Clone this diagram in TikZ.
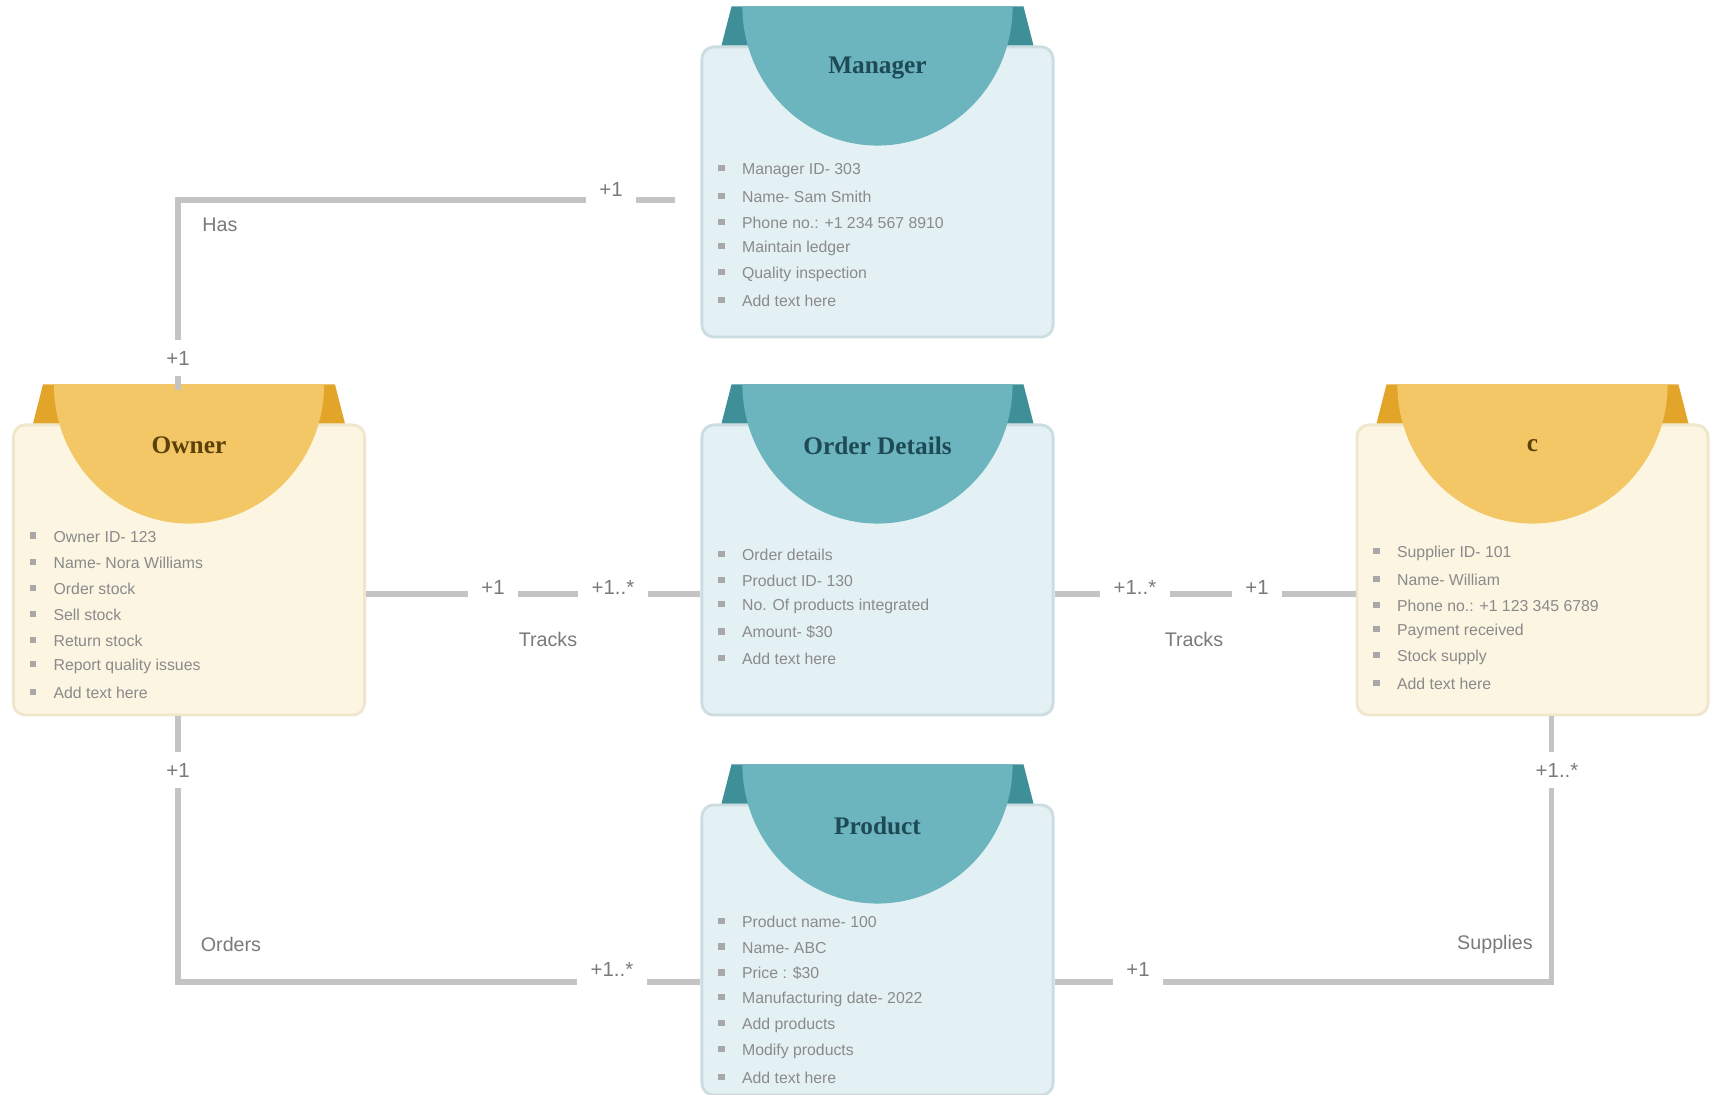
\documentclass[tikz,border=0pt]{standalone}
\usepackage{amsmath}
\usepackage{amssymb}
\usepackage{fontspec}
\usepackage{tikz}
\setmainfont{Liberation Sans}
\newfontfamily\titlefont{Liberation Serif}

\definecolor{tealtab}{HTML}{6CB4BE}
\definecolor{tealdark}{HTML}{3F8F99}
\definecolor{tealbody}{HTML}{E4F1F4}
\definecolor{tealedge}{HTML}{CCDDE1}
\definecolor{tealtitle}{HTML}{1D4A55}
\definecolor{goldtab}{HTML}{F3C766}
\definecolor{golddark}{HTML}{E2A52A}
\definecolor{goldbody}{HTML}{FCF5E2}
\definecolor{goldedge}{HTML}{EFE6CC}
\definecolor{goldtitle}{HTML}{5B4008}
\definecolor{linkgray}{HTML}{C4C4C4}
\definecolor{labgray}{HTML}{7A7A7A}
\definecolor{itemgray}{HTML}{8A8A8A}
\definecolor{bulgray}{HTML}{A8A8A8}

\tikzset{
    card/.style={rectangle, rounded corners=0.12cm, minimum width=3.51cm,
        minimum height=2.9cm, line width=0.8pt},
    cardtitle/.style={anchor=center, inner sep=0pt,
        font=\titlefont\bfseries\fontsize{7.2}{8}\selectfont},
    carditem/.style={anchor=west, inner sep=0pt,
        font=\fontsize{4.5}{6}\selectfont, text=itemgray},
    link/.style={draw=linkgray, line width=1.6pt},
    mult/.style={fill=white, inner xsep=3.8pt, inner ysep=3pt,
        font=\fontsize{5.8}{7}\selectfont, text=labgray},
    role/.style={inner sep=0pt, font=\fontsize{5.6}{7}\selectfont, text=labgray}
}

\newcommand\itm{\textcolor{bulgray}{\rule[0.4ex]{1.8pt}{1.8pt}}\hspace{5pt}}

\newcommand\umlcard[6]{%
    \node[card, fill=#3body, draw=#3edge] (#1) at #2 {};
    \fill[#3dark] ([xshift=0.31cm,yshift=0.39cm]#1.north west)
        -- ([xshift=0.21cm]#1.north west) -- ([xshift=-0.21cm]#1.north east)
        -- ([xshift=-0.31cm,yshift=0.39cm]#1.north east) -- cycle;
    \fill[#3tab] ([xshift=-1.35cm,yshift=0.39cm]#1.north)
        arc[start angle=180, end angle=360, x radius=1.35cm, y radius=1.39cm] -- cycle;
    \node[cardtitle, text=#3title] (#1title) at ([yshift=-0.22cm]#1.north) {#4};
    \foreach \entry [count=\i] in {#6}
        \node[carditem] at ([xshift=0.17cm,yshift={-(#5+(\i-1)*26)*0.2845pt}]#1.north west) {\itm\entry};
}

\begin{document}
\begin{tikzpicture}[x=0.01cm, y=-0.01cm]
    \fill[white] (0,0) rectangle (1714,1095);
    \useasboundingbox (0,0) rectangle (1714,1095);

    \umlcard{manager}{(877.5,192)}{teal}{Manager}{125}{Manager ID- 303, Name- Sam Smith,
        Phone no.: +1 234 567 8910, Maintain ledger, Quality inspection, Add text here}
    \umlcard{owner}{(189,570)}{gold}{Owner}{113}{Owner ID- 123, Name- Nora Williams,
        Order stock, Sell stock, Return stock, Report quality issues, Add text here}
    \umlcard{order}{(877.5,570)}{teal}{Order Details}{131}{Order details, Product ID- 130,
        No. Of products integrated, Amount- \$30, Add text here}
    \umlcard{supplier}{(1532.5,570)}{gold}{c}{130}{Supplier ID- 101, Name- William,
        Phone no.: +1 123 345 6789, Payment received, Stock supply, Add text here}
    \umlcard{product}{(877.5,950)}{teal}{Product}{118}{Product name- 100, Name- ABC,
        Price : \$30, Manufacturing date- 2022, Add products, Modify products, Add text here}

    \draw[link, shorten >=0.25cm] ([xshift=-0.11cm,yshift=0.33cm]owner.north)
        |- ([yshift=-0.08cm]manager.west);
    \draw[link] ([yshift=-0.24cm]owner.east) -- ([yshift=-0.24cm]order.west);
    \draw[link] ([yshift=-0.24cm]order.east) -- ([yshift=-0.24cm]supplier.west);
    \draw[link] ([xshift=-0.11cm]owner.south) |- ([yshift=-0.32cm]product.west);
    \draw[link] ([xshift=0.19cm]supplier.south) |- ([yshift=-0.32cm]product.east);

    \node[mult] (hasowner) at (178,358) {+1};
    \node[mult] (hasmanager) at (611,189) {+1};
    \node[role] (has) at (220,225) {Has};
    \node[mult] (trackowner) at (493,587) {+1};
    \node[mult] (trackorderl) at (613,587) {+1..*};
    \node[role] (tracksl) at (548,639) {Tracks};
    \node[mult] (trackorderr) at (1135,587) {+1..*};
    \node[mult] (tracksupplier) at (1257,587) {+1};
    \node[role] (tracksr) at (1194,639) {Tracks};
    \node[mult] (ordowner) at (178,770) {+1};
    \node[role] (orders) at (231,944) {Orders};
    \node[mult] (ordproduct) at (612,969) {+1..*};
    \node[mult] (supsupplier) at (1557,770) {+1..*};
    \node[role] (supplies) at (1495,944) {Supplies};
    \node[mult] (supproduct) at (1138,969) {+1};
\end{tikzpicture}
\end{document}
